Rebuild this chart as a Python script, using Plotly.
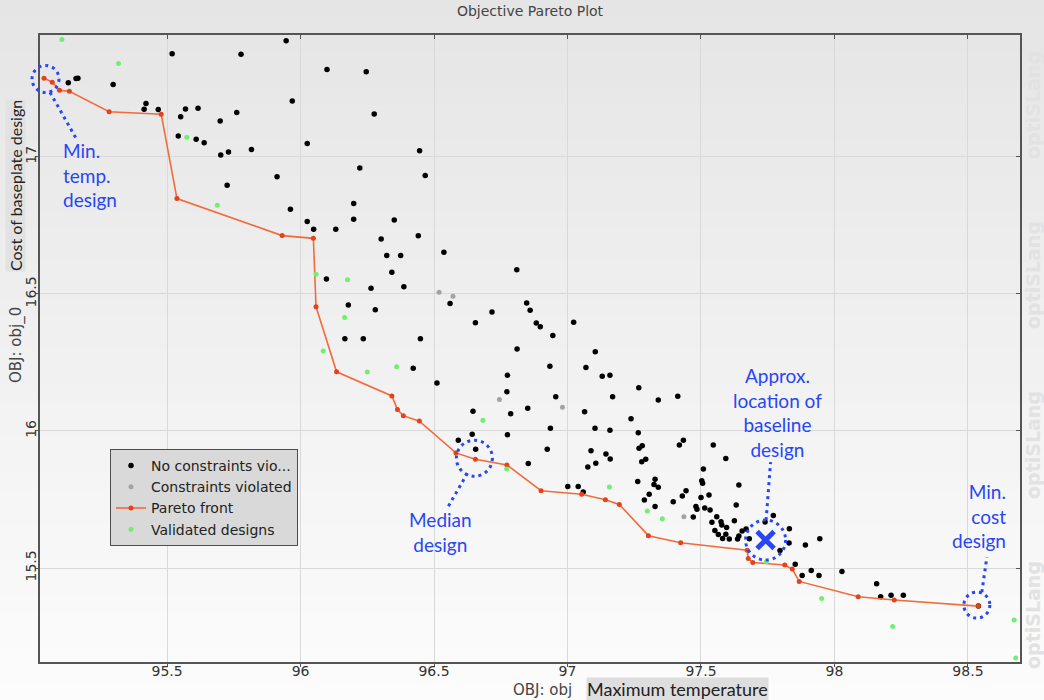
import plotly.graph_objects as go

# ---------------- data ----------------
black_x = [95.130, 95.159, 95.166, 95.298, 95.414, 95.421, 95.467, 95.519, 95.551, 95.569,
           95.616, 95.542, 95.609, 95.639, 95.699, 95.761, 95.777, 95.701, 95.730, 95.816,
           95.946, 95.969, 95.912, 95.725, 95.962, 96.099, 96.246, 96.276, 96.025, 96.446,
           96.222, 96.467, 96.199, 96.199, 96.025, 96.049, 96.132, 96.351, 96.302, 96.441,
           96.537, 96.323, 96.375, 96.342, 96.097, 96.264, 96.387, 96.810, 96.179, 96.280,
           96.166, 96.235, 96.449, 96.422, 96.511, 96.560, 96.655, 96.717, 96.847, 96.860,
           96.883, 96.898, 96.945, 97.023, 96.811, 96.934, 96.775, 96.773, 96.956, 97.104,
           97.069, 97.130, 97.159, 97.169, 96.851, 96.787, 96.646, 97.064, 96.936, 97.103,
           97.159, 96.775, 96.643, 96.591, 96.656, 96.924, 96.853, 97.088, 97.144, 97.160,
           97.106, 97.076, 97.001, 97.040, 97.059, 97.267, 97.340, 97.413, 97.238, 97.265,
           97.268, 97.280, 97.278, 97.293, 97.419, 97.434, 97.546, 97.593, 97.509, 97.263,
           97.328, 97.324, 97.340, 97.503, 97.506, 97.306, 97.288, 97.444, 97.430, 97.396,
           97.500, 97.530, 97.328, 97.481, 97.485, 97.514, 97.534, 97.471, 97.541, 97.559,
           97.575, 97.578, 97.552, 97.596, 97.642, 97.593, 97.606, 97.625, 97.632, 97.642,
           97.654, 97.669, 97.637, 97.681, 97.565, 97.581, 97.771, 97.740, 97.831, 97.830,
           97.796, 97.891, 97.945, 97.853, 97.879, 97.913, 97.942, 98.028, 98.158, 98.173,
           98.212, 98.258, 98.539]
black_y = [17.271, 17.286, 17.287, 17.264, 17.174, 17.195, 17.173, 17.377, 17.147, 17.175,
           17.178, 17.076, 17.065, 17.052, 17.131, 17.162, 17.375, 17.007, 17.018, 17.027,
           17.424, 17.204, 16.928, 16.897, 16.809, 17.319, 17.311, 17.157, 17.049, 17.023,
           16.960, 16.932, 16.830, 16.773, 16.764, 16.736, 16.736, 16.770, 16.701, 16.712,
           16.652, 16.640, 16.640, 16.579, 16.555, 16.521, 16.526, 16.588, 16.460, 16.442,
           16.337, 16.337, 16.337, 16.229, 16.175, 16.465, 16.395, 16.434, 16.467, 16.441,
           16.394, 16.380, 16.348, 16.397, 16.299, 16.236, 16.203, 16.143, 16.125, 16.289,
           16.232, 16.200, 16.203, 16.125, 16.083, 16.063, 16.072, 16.070, 16.010, 16.010,
           16.003, 15.986, 15.988, 15.966, 15.933, 15.933, 15.881, 15.928, 15.916, 15.898,
           15.882, 15.869, 15.797, 15.797, 15.777, 16.158, 16.113, 16.127, 16.045, 15.994,
           15.937, 15.946, 15.888, 15.897, 15.949, 15.966, 15.949, 15.900, 15.861, 15.816,
           15.824, 15.805, 15.795, 15.818, 15.809, 15.769, 15.748, 15.782, 15.763, 15.742,
           15.757, 15.766, 15.724, 15.724, 15.714, 15.719, 15.712, 15.686, 15.667, 15.687,
           15.669, 15.657, 15.637, 15.648, 15.803, 15.623, 15.606, 15.672, 15.730, 15.617,
           15.635, 15.642, 15.606, 15.607, 15.622, 15.608, 15.692, 15.668, 15.643, 15.591,
           15.564, 15.584, 15.607, 15.514, 15.473, 15.491, 15.473, 15.487, 15.443, 15.395,
           15.401, 15.401, 15.361]

gray_x = [96.519, 96.571, 96.745, 96.981, 97.436]
gray_y = [16.506, 16.492, 16.115, 16.087, 15.687]

pareto_x = [95.039, 95.070, 95.097, 95.134, 95.283, 95.478, 95.537, 95.931, 96.048, 96.058,
            96.135, 96.342, 96.363, 96.385, 96.445, 96.582, 96.655, 96.773, 96.901, 97.053,
            97.142, 97.194, 97.303, 97.424, 97.673, 97.677, 97.694, 97.814, 97.842, 97.868,
            98.089, 98.224, 98.539]
pareto_y = [17.287, 17.273, 17.243, 17.240, 17.165, 17.156, 16.848, 16.713, 16.703, 16.453,
            16.216, 16.128, 16.078, 16.056, 16.036, 15.920, 15.897, 15.876, 15.782, 15.769,
            15.749, 15.732, 15.618, 15.592, 15.565, 15.535, 15.520, 15.511, 15.496, 15.451,
            15.395, 15.383, 15.361]

green_x = [95.106, 95.318, 95.574, 95.688, 96.058, 96.176, 96.165, 96.085, 96.250, 96.360,
           96.683, 96.772, 97.157, 97.299, 97.355, 97.745, 97.952, 98.218, 98.673, 98.679]
green_y = [17.429, 17.341, 17.072, 16.824, 16.572, 16.552, 16.414, 16.292, 16.215, 16.234,
           16.039, 15.861, 15.796, 15.708, 15.680, 15.523, 15.389, 15.287, 15.310, 15.172]

baseline_x = [97.742]
baseline_y = [15.602]

x_ticks = [95.5, 96, 96.5, 97, 97.5, 98, 98.5]
x_tick_labels = ["95.5", "96", "96.5", "97", "97.5", "98", "98.5"]
y_ticks = [15.5, 16, 16.5, 17]
y_tick_labels = ["15.5", "16", "16.5", "17"]

series_names = ["No constraints vio...", "Constraints violated", "Pareto front", "Validated designs"]

# ---------------- layout constants ----------------
W, H = 1044, 700
ML, MR, MT, MB = 40, 24, 35, 38
PW, PH = W - ML - MR, H - MT - MB
X_RANGE = [95.024, 98.695]
Y_RANGE = [15.157, 17.445]
BLUE = "#2846f5"


def data_paper(xd, yd, dx=0.0, dy=0.0):
    """data point -> paper coords, with a pixel offset (dy positive = down)."""
    px = (xd - X_RANGE[0]) / (X_RANGE[1] - X_RANGE[0]) + dx / PW
    py = (yd - Y_RANGE[0]) / (Y_RANGE[1] - Y_RANGE[0]) - dy / PH
    return px, py


def px_paper(px, py):
    return (px - ML) / PW, (H - MB - py) / PH


fig = go.Figure()

fig.add_trace(go.Scatter(x=black_x, y=black_y, mode="markers", name=series_names[0],
                         marker=dict(color="#000000", size=5.5)))
fig.add_trace(go.Scatter(x=gray_x, y=gray_y, mode="markers", name=series_names[1],
                         marker=dict(color="#a3a3a3", size=5)))
fig.add_trace(go.Scatter(x=pareto_x, y=pareto_y, mode="lines+markers", name=series_names[2],
                         line=dict(color="#f36b3b", width=1.6),
                         marker=dict(color="#e2431a", size=5)))
fig.add_trace(go.Scatter(x=green_x, y=green_y, mode="markers", name=series_names[3],
                         marker=dict(color="#6ff06f", size=5)))
fig.add_trace(go.Scatter(x=baseline_x, y=baseline_y, mode="markers", showlegend=False,
                         marker=dict(symbol="x-thin", size=17, color=BLUE,
                                     line=dict(color=BLUE, width=5))))
# helper trace for mirrored inside ticks on top / right
fig.add_trace(go.Scatter(x=[], y=[], xaxis="x2", yaxis="y2", showlegend=False))

shapes = []
# gradient background bands
n_bands = 40
y_lo = -MB / PH
y_hi = 1 + MT / PH
for i in range(n_bands):
    t = i / (n_bands - 1)
    c = int(round(252 - (252 - 229) * t))
    shapes.append(dict(type="rect", xref="paper", yref="paper", layer="below",
                       x0=-ML / PW, x1=1 + MR / PW,
                       y0=y_lo + (y_hi - y_lo) * i / n_bands,
                       y1=y_lo + (y_hi - y_lo) * (i + 1) / n_bands + 0.002,
                       line=dict(width=0), fillcolor=f"rgb({c},{c},{c})"))


def circle(cx, cy, r, ox=0.0, oy=0.0):
    x0, y0 = data_paper(cx, cy, ox - r, oy + r)
    x1, y1 = data_paper(cx, cy, ox + r, oy - r)
    return dict(type="circle", xref="paper", yref="paper", x0=x0, y0=y0, x1=x1, y1=y1,
                line=dict(color=BLUE, width=3, dash="3px,4px"), layer="above")


def dline(cx, cy, a, b):
    x0, y0 = data_paper(cx, cy, *a)
    x1, y1 = data_paper(cx, cy, *b)
    return dict(type="line", xref="paper", yref="paper", x0=x0, y0=y0, x1=x1, y1=y1,
                line=dict(color=BLUE, width=3, dash="3px,4px"), layer="above")


# min temp design (first Pareto point)
shapes.append(circle(pareto_x[0], pareto_y[0], 13.5, 1.5, 0.7))
shapes.append(dline(pareto_x[0], pareto_y[0], (6, 14), (32, 60)))
# median design
shapes.append(circle(pareto_x[16], pareto_y[16], 18, -1, -1))
shapes.append(dline(pareto_x[16], pareto_y[16], (-8, 14), (-27, 47)))
# baseline
shapes.append(circle(baseline_x[0], baseline_y[0], 20))
shapes.append(dline(baseline_x[0], baseline_y[0], (0.5, -20), (5, -78)))
# min cost design
shapes.append(circle(pareto_x[-1], pareto_y[-1], 13, -1.5, -1))
shapes.append(dline(pareto_x[-1], pareto_y[-1], (3.5, -14), (8.5, -49)))

ann = []
afont = dict(family="Lato, Open Sans, sans-serif", size=19, color=BLUE)


def txt(text, px, py, xanchor, align):
    x, y = px_paper(px, py)
    ann.append(dict(text=text, x=x, y=y, xref="paper", yref="paper", showarrow=False,
                    xanchor=xanchor, yanchor="middle", align=align, font=afont))


def label(text, px, py, font, **kw):
    x, y = px_paper(px, py)
    ann.append(dict(text=text, x=x, y=y, xref="paper", yref="paper", showarrow=False,
                    xanchor="center", yanchor="middle", font=font, **kw))


txt("Min.<br>temp.<br>design", 61, 175, "left", "left")
txt("Median<br>design", 440, 532, "center", "center")
txt("Approx.<br>location of<br>baseline<br>design", 777, 412, "center", "center")
txt("Min.<br>cost<br>design", 1008, 516, "right", "right")

# axis titles
label("OBJ: obj", 542, 690, dict(family="DejaVu Sans", size=15, color="#444"))
label("Maximum temperature", 677, 689, dict(family="Lato, sans-serif", size=18, color="#222"),
      bgcolor="#dedede", borderpad=0)
label("OBJ: obj_0", 17, 345, dict(family="DejaVu Sans", size=15, color="#444"), textangle=-90)
label("Cost of baseplate design", 16, 186, dict(family="Lato, sans-serif", size=16, color="#222"),
      textangle=-90, bgcolor="#e2e2e2", borderpad=0)

# watermark
for cy in [105, 275, 445, 615]:
    label("optiSLang", 1033, cy,
          dict(family="DejaVu Sans", size=19, color="#e2e2e2", weight="bold"), textangle=-90)

axis_common = dict(showline=True, linecolor="#555", linewidth=1.5, showgrid=True,
                   gridcolor="#d9d9d9", gridwidth=1, zeroline=False, ticks="outside",
                   ticklen=3, tickcolor="#555", tickfont=dict(family="DejaVu Sans", size=14, color="#333"))

fig.update_layout(
    width=W, height=H,
    margin=dict(l=ML, r=MR, t=MT, b=MB),
    paper_bgcolor="#efefef",
    plot_bgcolor="rgba(0,0,0,0)",
    title=dict(text="Objective Pareto Plot", x=0.5, xref="paper", xanchor="center",
               y=1 - 11 / H, yref="container", yanchor="middle",
               font=dict(family="DejaVu Sans", size=14, color="#444")),
    xaxis=dict(range=X_RANGE, tickvals=x_ticks, ticktext=x_tick_labels,
               ticklabelstandoff=-8, **axis_common),
    yaxis=dict(range=Y_RANGE, tickvals=y_ticks, ticktext=y_tick_labels, tickangle=-90,
               ticklabelstandoff=-6, **axis_common),
    xaxis2=dict(overlaying="x", matches="x", side="top", anchor="y", showline=True,
                linecolor="#555", linewidth=1.5, ticks="inside", ticklen=4, tickcolor="#555",
                tickvals=x_ticks, showticklabels=False, showgrid=False, zeroline=False),
    yaxis2=dict(overlaying="y", matches="y", side="right", anchor="x", showline=True,
                linecolor="#555", linewidth=1.5, ticks="inside", ticklen=4, tickcolor="#555",
                tickvals=y_ticks, showticklabels=False, showgrid=False, zeroline=False),
    legend=dict(x=(110 - ML) / PW, y=(H - MB - 449) / PH, xanchor="left", yanchor="top",
                bgcolor="#d9d9d9", bordercolor="#4d4d4d", borderwidth=1,
                font=dict(family="DejaVu Sans", size=14, color="#222"),
                tracegroupgap=0),
    shapes=shapes,
    annotations=ann,
    showlegend=True,
)

fig.write_html("out.html", config={"displayModeBar": False},
               post_script="document.body.style.margin='0';document.body.style.overflow='hidden';")
